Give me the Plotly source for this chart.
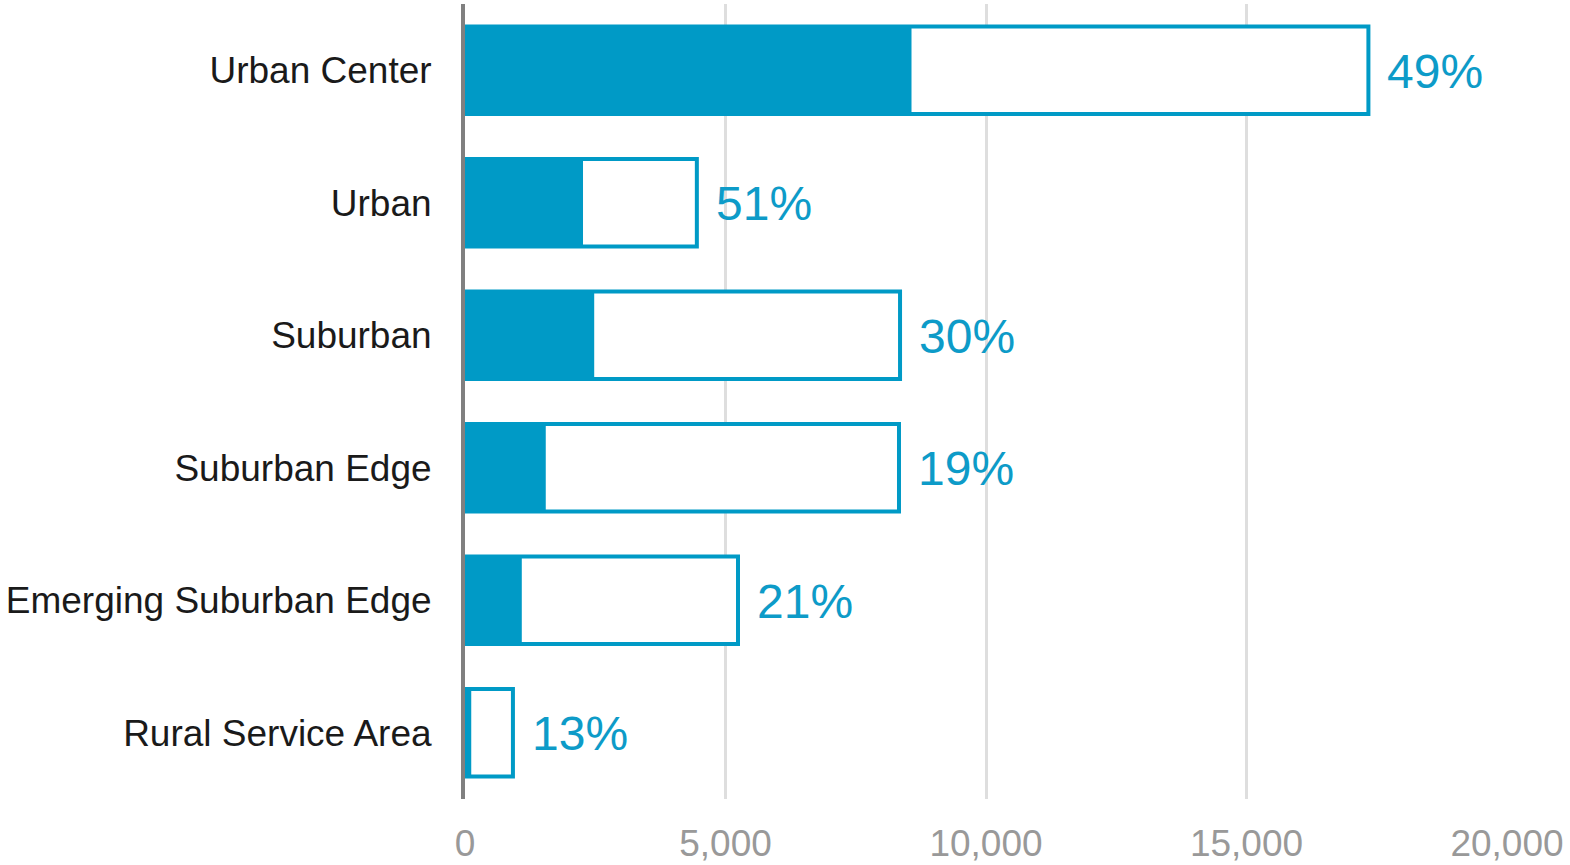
import plotly.graph_objects as go

categories = ["Urban Center", "Urban", "Suburban", "Suburban Edge",
              "Emerging Suburban Edge", "Rural Service Area"]
total_values = [17340, 4450, 8350, 8330, 5240, 920]
filled_values = [8570, 2265, 2480, 1550, 1090, 120]
pct_labels = ["49%", "51%", "30%", "19%", "21%", "13%"]
x_ticks = [0, 5000, 10000, 15000, 20000]
x_tick_labels = ["0", "5,000", "10,000", "15,000", "20,000"]

BLUE = "#009AC6"
FONT = "Liberation Sans, Arial, sans-serif"

fig = go.Figure()
fig.add_trace(go.Bar(
    y=categories, x=total_values, orientation="h",
    marker=dict(color="white", line=dict(color=BLUE, width=4)),
    width=0.66, hoverinfo="skip", showlegend=False,
))
fig.add_trace(go.Bar(
    y=categories, x=filled_values, orientation="h",
    marker=dict(color=BLUE, line=dict(width=0)),
    width=0.66, showlegend=False,
))

for cat, tot, lab in zip(categories, total_values, pct_labels):
    fig.add_annotation(
        x=tot, y=cat, text=lab, showarrow=False, xanchor="left",
        xshift=17, yshift=-1,
        font=dict(family=FONT, size=48, color="#0D9BC8"),
    )

fig.update_layout(
    width=1570, height=865,
    margin=dict(l=465, r=63, t=4, b=66, autoexpand=False),
    paper_bgcolor="white", plot_bgcolor="white",
    barmode="overlay",
    font=dict(family=FONT),
)
fig.update_xaxes(
    range=[0, 20000], tickvals=x_ticks, ticktext=x_tick_labels,
    showgrid=True, gridcolor="#DEDEDE", gridwidth=3,
    zeroline=False, showline=False, automargin=False,
    tickfont=dict(family=FONT, size=37, color="#999999"),
    ticklabelstandoff=19,
)
fig.update_yaxes(
    categoryorder="array", categoryarray=categories[::-1],
    showgrid=False, zeroline=False, automargin=False,
    showline=True, linecolor="#808080", linewidth=4,
    tickfont=dict(family=FONT, size=37, color="#1A1A1A"),
    ticklabelstandoff=22,
)

fig.write_html("out.html")
